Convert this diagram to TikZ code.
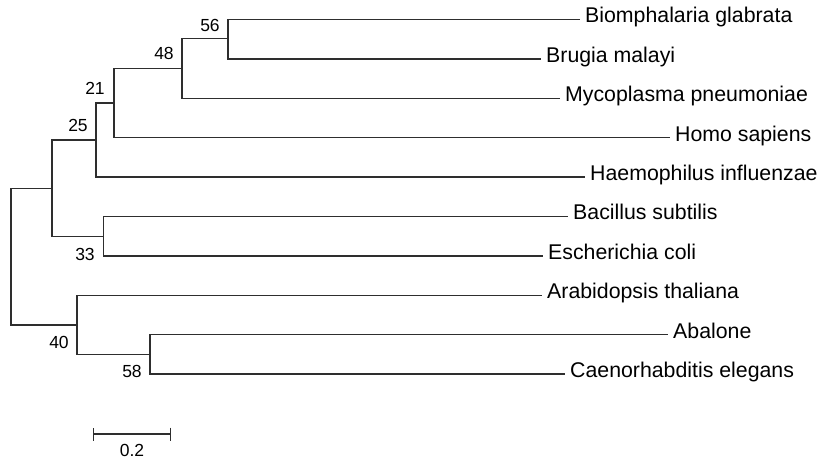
\documentclass[tikz,border=0pt]{standalone}
\usepackage{fontspec}
\setsansfont{Liberation Sans}
\usetikzlibrary{arrows.meta}
\colorlet{myink}{black!82}

\begin{document}
\begin{tikzpicture}[
  x=1pt, y=-1pt,
  font=\sffamily,
  taxon/.style ={anchor=west, inner xsep=5pt, inner ysep=0pt, text=black,
                 text height=0.66em, text depth=0pt,
                 font=\sffamily\fontsize{21.3}{25}\selectfont},
  boot/.style  ={inner sep=0pt, text=black, font=\sffamily\fontsize{17.5}{21}\selectfont},
  branch/.style={draw=myink, line width=1.25pt},
  scalebar/.style={draw=myink, line width=1.25pt,
                   {Bar[width=13pt,line width=1.25pt]}-{Bar[width=13pt,line width=1.25pt]}},
]
\useasboundingbox (0,0) rectangle (823,459);

% ==================================================== leaves (line end = west anchor)
\node[taxon] (bio)  at (580,19.5)  {Biomphalaria glabrata};
\node[taxon] (bru)  at (541,58.9)  {Brugia malayi};
\node[taxon] (myco) at (560,98.3)  {Mycoplasma pneumoniae};
\node[taxon] (homo) at (670,137.7) {Homo sapiens};
\node[taxon] (haem) at (585,177.1) {Haemophilus influenzae};
\node[taxon] (bac)  at (568,216.5) {Bacillus subtilis};
\node[taxon] (esc)  at (543,255.9) {Escherichia coli};
\node[taxon] (ara)  at (542,295.3) {Arabidopsis thaliana};
\node[taxon] (aba)  at (668,334.7) {Abalone};
\node[taxon] (cae)  at (565,374.1) {Caenorhabditis elegans};

% ==================================================== internal nodes, each at the middle of its children
\coordinate (n56)  at (228,38.75);
\coordinate (n48)  at (182,68.5);
\coordinate (n21)  at (114,103.1);
\coordinate (n25)  at (96,140.1);
\coordinate (n33)  at (103.5,236.2);
\coordinate (nup)  at (52,188.2);
\coordinate (n58)  at (150,354.4);
\coordinate (n40)  at (77,324.9);
\coordinate (root) at (11,256.5);

% ==================================================== branches
\draw[branch] (n56) |- (bio.west);
\draw[branch] (n56) |- (bru.west);
\draw[branch] (n48) |- (n56);
\draw[branch] (n48) |- (myco.west);
\draw[branch] (n21) |- (n48);
\draw[branch] (n21) |- (homo.west);
\draw[branch] (n25) |- (n21);
\draw[branch] (n25) |- (haem.west);
\draw[branch] (n33) |- (bac.west);
\draw[branch] (n33) |- (esc.west);
\draw[branch] (nup) |- (n25);
\draw[branch] (nup) |- (n33);
\draw[branch] (n58) |- (aba.west);
\draw[branch] (n58) |- (cae.west);
\draw[branch] (n40) |- (ara.west);
\draw[branch] (n40) |- (n58);
\draw[branch] (root) |- (nup);
\draw[branch] (root) |- (n40);

% ==================================================== bootstrap values
\node[boot] (b56) at (210,25)  {56};
\node[boot] (b48) at (164,53)  {48};
\node[boot] (b21) at (95,88)   {21};
\node[boot] (b25) at (78,125)  {25};
\node[boot] (b33) at (85,254)  {33};
\node[boot] (b40) at (59,342)  {40};
\node[boot] (b58) at (132,371) {58};

% ==================================================== scale
\coordinate (sbL) at (93,434);
\coordinate (sbR) at (171,434);
\draw[scalebar] (sbL) -- (sbR);
\node[boot] (sblab) at (132,450) {0.2};

\end{tikzpicture}
\end{document}
